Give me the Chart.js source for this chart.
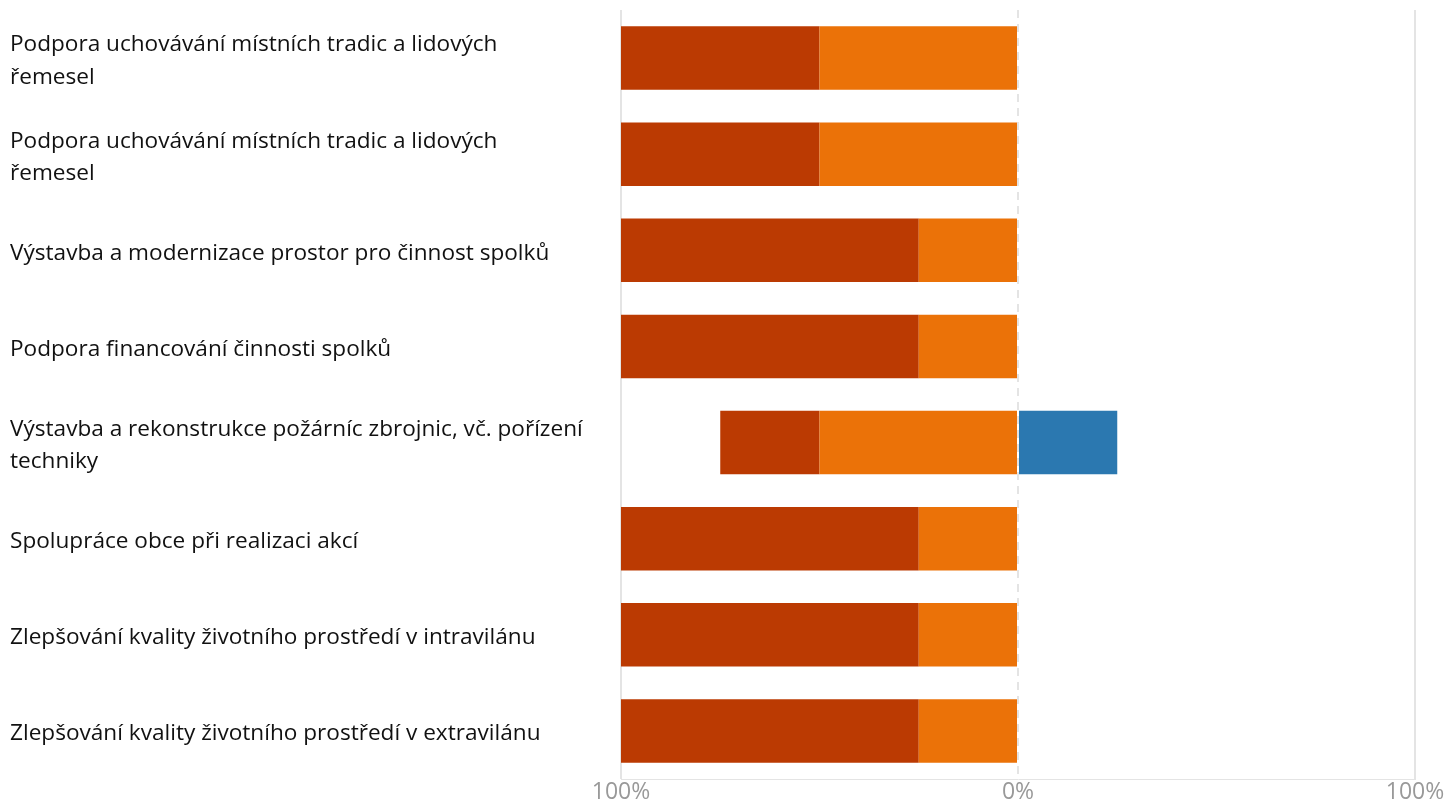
<!DOCTYPE html>
<html>
<head>
<meta charset="utf-8">
<script src="https://cdn.jsdelivr.net/npm/chart.js@4/dist/chart.umd.min.js"></script>
<style>
  html, body { margin: 0; padding: 0; background: #fff; }
  #wrap { width: 1447px; height: 800px; position: relative; }
</style>
</head>
<body>
<div id="wrap"><canvas id="chart"></canvas></div>
<script>
// categories (wrapped lines as shown)
const categories = [
    ['Podpora uchovávání místních tradic a lidových', 'řemesel'],
    ['Podpora uchovávání místních tradic a lidových', 'řemesel'],
    'Výstavba a modernizace prostor pro činnost spolků',
    'Podpora financování činnosti spolků',
    ['Výstavba a rekonstrukce požárníc zbrojnic, vč. pořízení', 'techniky'],
    'Spolupráce obce při realizaci akcí',
    'Zlepšování kvality životního prostředí v intravilánu',
    'Zlepšování kvality životního prostředí v extravilánu'
];

// shares in % (left side is drawn as negative)
const orangeLeft = [50, 50, 25, 25, 50, 25, 25, 25];
const darkRedLeft = [50, 50, 75, 75, 25, 75, 75, 75];
const blueRight = [0, 0, 0, 0, 25, 0, 0, 0];

const xTicks = [-100, 0, 100];

const gridColor = '#e4e4e4';

new Chart(document.getElementById('chart'), {
    type: 'bar',
    data: {
        labels: categories,
        datasets: [
            { label: 'orange', data: orangeLeft.map(v => -v), backgroundColor: '#EB7208', stack: 's' },
            { label: 'darkred', data: darkRedLeft.map(v => -v), backgroundColor: '#BB3A02', stack: 's' },
            { label: 'blue', data: blueRight, backgroundColor: '#2B78B0', stack: 's' }
        ]
    },
    options: {
        indexAxis: 'y',
        responsive: true,
        maintainAspectRatio: false,
        animation: false,
        layout: { padding: { left: 10, right: 32, top: 10, bottom: 0 } },
        datasets: { bar: { categoryPercentage: 1, barPercentage: 0.66, borderWidth: 0 } },
        plugins: { legend: { display: false }, tooltip: { enabled: false } },
        scales: {
            x: {
                stacked: true,
                min: -100,
                max: 100,
                afterBuildTicks: scale => { scale.ticks = xTicks.map(v => ({ value: v })); },
                afterFit: scale => {
                    scale.height = 21;
                    scale.paddingLeft = 0;
                    scale.paddingRight = 0;
                },
                ticks: {
                    padding: 0,
                    color: '#999',
                    font: { family: 'Open Sans', size: 23 },
                    callback: v => Math.abs(v) + '%'
                },
                grid: { color: gridColor, lineWidth: 2, drawTicks: false },
                border: {
                    color: gridColor,
                    width: 1,
                    dash: ctx => (ctx.tick && ctx.tick.value === 0) ? [8, 6] : []
                }
            },
            y: {
                stacked: true,
                afterFit: scale => {
                    scale.width = 611;
                    scale.paddingTop = 0;
                    scale.paddingBottom = 0;
                },
                grid: { display: false, drawTicks: false },
                border: { display: false },
                ticks: {
                    crossAlign: 'far',
                    labelOffset: 3,
                    color: '#111',
                    font: { family: 'Open Sans', size: 22.6, lineHeight: 1.42 }
                }
            }
        }
    }
});
</script>
</body>
</html>
